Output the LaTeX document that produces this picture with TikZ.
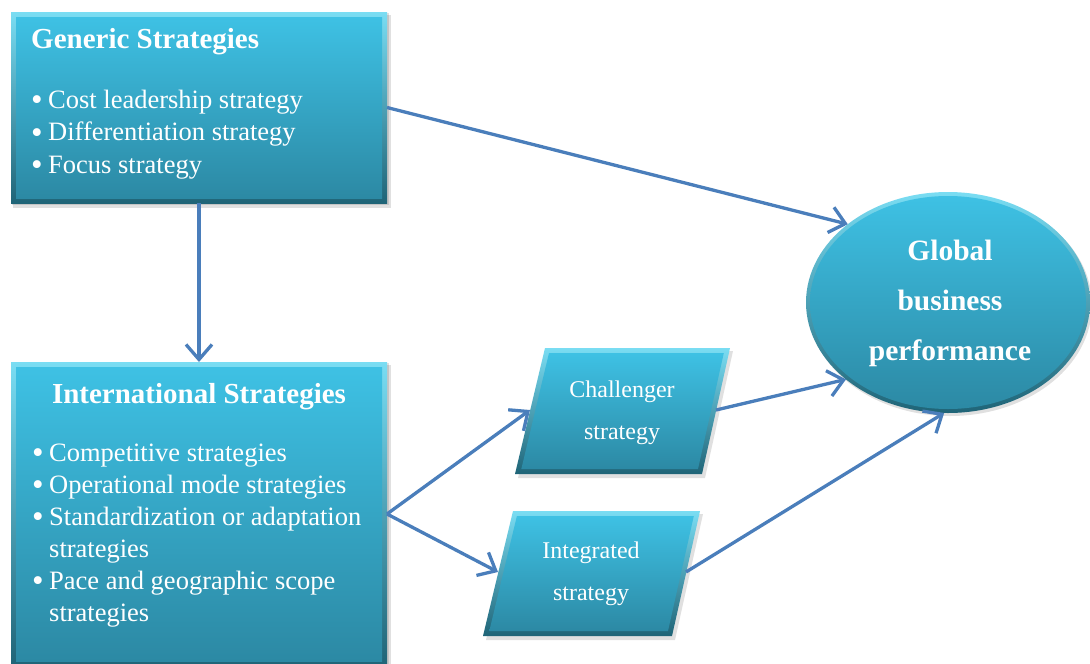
\documentclass[tikz,border=0pt]{standalone}
\usepackage{fontspec}
\setmainfont{Liberation Serif}
\usetikzlibrary{shapes.geometric,arrows.meta}
\definecolor{mainT}{HTML}{3EC1E4}
\definecolor{mainB}{HTML}{2C89A4}
\definecolor{bevT}{HTML}{7ADDF3}
\definecolor{bevB}{HTML}{1F6477}
\definecolor{arr}{HTML}{4A7EBB}
\newcommand\bul{\makebox[17pt][l]{\raisebox{-2.5pt}[0pt][0pt]{\fontsize{33}{33}\selectfont\textbullet}}}
\newcommand\cont{\hspace*{17pt}}
\begin{document}
\begin{tikzpicture}[x=1pt,y=-1pt,
  conn/.style={draw=arr, line width=3.3pt, -{Straight Barb[length=15pt,width=26pt]}},
  txt/.style={text=white, inner sep=0pt},
  head/.style={txt, font=\bfseries\fontsize{29}{35}\selectfont},
  items/.style={txt, align=left},
  small/.style={txt, align=center, font=\fontsize{24}{42}\selectfont},
  big/.style={txt, align=center, font=\bfseries\fontsize{29.5}{50}\selectfont},
  shadowA/.style={fill=black, opacity=0.12},
  bevel/.style={top color=bevT, bottom color=bevB},
  face/.style={top color=mainT, bottom color=mainB},
  frame/.style={inner sep=0pt, outer sep=0pt}
]
\useasboundingbox (0,0) rectangle (1090,664);

% ---------- Generic Strategies box
\fill[shadowA] (13,15) rectangle (391,208);
\fill[shadowA] (12,13) rectangle (389,205);
\shade[bevel] (11,12) rectangle (387,203);
\shade[face] (16,17) rectangle (382,198);
\node[frame, minimum width=376pt, minimum height=191pt] (gen) at (199,107.5) {};
\node[head, anchor=base west] (gent) at (31,48) {Generic Strategies};
\node[items, font=\fontsize{26.5}{32.5}\selectfont, anchor=base west] (genl) at (31,173) {\bul Cost leadership strategy\\ \bul Differentiation strategy\\ \bul Focus strategy};

% ---------- International Strategies box
\fill[shadowA] (13,365) rectangle (391,670);
\fill[shadowA] (12,363) rectangle (389,668);
\shade[bevel] (11,362) rectangle (387,666);
\shade[face] (16,367) rectangle (382,661);
\node[frame, minimum width=376pt, minimum height=304pt] (intl) at (199,514) {};
\node[head, anchor=base] (intlt) at (199,403) {International Strategies};
\node[items, font=\fontsize{26.5}{32}\selectfont, anchor=base west] (intll) at (32,621) {\bul Competitive strategies\\ \bul Operational mode strategies\\ \bul Standardization or adaptation\\ \cont strategies\\ \bul Pace and geographic scope\\ \cont strategies};

% ---------- Challenger strategy
\fill[shadowA] (548,351) -- (733,351) -- (705,478) -- (518,478) -- cycle;
\shade[bevel] (545,348) -- (730,348) -- (702,474) -- (515,474) -- cycle;
\shade[face] (549,353) -- (723.8,353) -- (698,469) -- (521.3,469) -- cycle;
\coordinate (chw) at (530,410);
\coordinate (che) at (716,410);
\node[small, anchor=base] (cht) at (622,439) {Challenger\\strategy};

% ---------- Integrated strategy
\fill[shadowA] (516,514) -- (703,514) -- (675,640) -- (486,640) -- cycle;
\shade[bevel] (513,511) -- (700,511) -- (672,636) -- (483,636) -- cycle;
\shade[face] (516.9,516) -- (693.8,516) -- (668,631) -- (489.3,631) -- cycle;
\coordinate (itw) at (498,572);
\coordinate (ite) at (686,572);
\node[small, anchor=base] (itt) at (591,600) {Integrated\\strategy};

% ---------- Global business performance
\fill[shadowA] (950,305) ellipse [x radius=142, y radius=111];
\node[ellipse, frame, bevel, minimum width=284pt, minimum height=221pt] (gpf) at (948,302.5) {};
\shade[face] (948,302.5) ellipse [x radius=138, y radius=106.5];
\node[big, anchor=base] (gpft) at (950,360) {Global\\business\\performance};

% ---------- connectors
\draw[conn] (gen.east) -- (gpf.142);
\draw[conn] (gen.south) -- (intl.north);
\draw[conn] (intl.east) -- (chw);
\draw[conn] (intl.east) -- (itw);
\draw[conn] (che) -- (gpf.217);
\draw[conn] (ite) -- (gpf.268);
\end{tikzpicture}
\end{document}
